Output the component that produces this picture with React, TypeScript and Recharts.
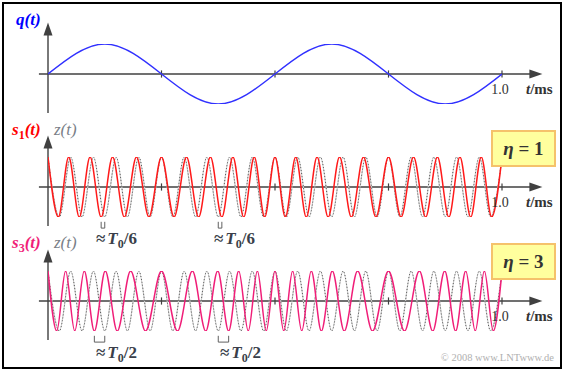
import React from "react";
import { LineChart, Line, XAxis, YAxis, ReferenceLine, ReferenceDot } from "recharts";

// Message q(t): extremum / end times (ms) and levels
const qTimes = [0, 0.125, 0.375, 0.625, 0.875, 1.0];
const qLevels = [0, 1, -1, 1, -1, 0];

// Carrier z(t): extremum times (ms), 20 periods per ms
const zTimes = [
  0, 0.025, 0.05, 0.075, 0.1, 0.125, 0.15, 0.175, 0.2, 0.225, 0.25, 0.275, 0.3, 0.325,
  0.35, 0.375, 0.4, 0.425, 0.45, 0.475, 0.5, 0.525, 0.55, 0.575, 0.6, 0.625, 0.65, 0.675,
  0.7, 0.725, 0.75, 0.775, 0.8, 0.825, 0.85, 0.875, 0.9, 0.925, 0.95, 0.975, 1.0,
];

// s1(t), eta = 1: extremum times (ms)
const s1Times = [
  0, 0.02275, 0.04568, 0.06894, 0.09269, 0.11708, 0.14223, 0.16819, 0.19493, 0.22229,
  0.25, 0.27771, 0.30507, 0.33181, 0.35777, 0.38292, 0.40731, 0.43106, 0.45432, 0.47725,
  0.5, 0.52275, 0.54568, 0.56894, 0.59269, 0.61708, 0.64223, 0.66819, 0.69493, 0.72229,
  0.75, 0.77771, 0.80507, 0.83181, 0.85777, 0.88292, 0.90731, 0.93106, 0.95432, 0.97725, 1.0,
];

// s3(t), eta = 3: extremum times (ms)
const s3Times = [
  0, 0.01927, 0.03881, 0.0589, 0.07986, 0.10211, 0.12613, 0.15254, 0.18199, 0.21479,
  0.25, 0.28521, 0.31801, 0.34746, 0.37387, 0.39789, 0.42014, 0.4411, 0.46119, 0.48073,
  0.5, 0.51927, 0.53881, 0.5589, 0.57986, 0.60211, 0.62613, 0.65254, 0.68199, 0.71479,
  0.75, 0.78521, 0.81801, 0.84746, 0.87387, 0.89789, 0.92014, 0.9411, 0.96119, 0.98073, 1.0,
];

// alternating extremum levels of the oscillating signals
const swing = [
  1, -1, 1, -1, 1, -1, 1, -1, 1, -1, 1, -1, 1, -1, 1, -1, 1, -1, 1, -1, 1,
  -1, 1, -1, 1, -1, 1, -1, 1, -1, 1, -1, 1, -1, 1, -1, 1, -1, 1, -1, 1,
];

const axisTicks = [0.25, 0.5, 0.75, 1.0];

// marked time offsets (ms) between signal and carrier
const bracketsS1 = [
  [0.11708, 0.125],
  [0.375, 0.38292],
];
const bracketsS3 = [
  [0.10211, 0.125],
  [0.375, 0.39789],
];

const qData = qTimes.map((t, i) => ({ t, v: qLevels[i] }));
const zData = zTimes.map((t, i) => ({ t, v: swing[i] }));
const s1Data = s1Times.map((t, i) => ({ t, v: swing[i] }));
const s3Data = s3Times.map((t, i) => ({ t, v: swing[i] }));

const AX = "#404040";
const W = 564;
const H = 372;

const ArrowRight = (p: any) => (
  <path d={`M${p.cx},${p.cy} L${p.cx - 13},${p.cy - 4.5} L${p.cx - 13},${p.cy + 4.5} Z`} fill={AX} />
);
const ArrowUp = (p: any) => (
  <path d={`M${p.cx},${p.cy} L${p.cx - 4.5},${p.cy + 13} L${p.cx + 4.5},${p.cy + 13} Z`} fill={AX} />
);

function axisElements(prefix: string) {
  const els: any[] = [
    <ReferenceLine
      key={prefix + "xa"}
      segment={[{ x: -0.02, y: 0 }, { x: 1.065, y: 0 }]}
      stroke={AX}
      strokeWidth={1.4}
      ifOverflow="visible"
    />,
    <ReferenceLine
      key={prefix + "ya"}
      segment={[{ x: 0, y: -1.3 }, { x: 0, y: 1.4 }]}
      stroke={AX}
      strokeWidth={1.4}
      ifOverflow="visible"
    />,
    <ReferenceDot key={prefix + "xr"} x={1.089} y={0} ifOverflow="visible" shape={ArrowRight} />,
    <ReferenceDot key={prefix + "yr"} x={0} y={1.72} ifOverflow="visible" shape={ArrowUp} />,
  ];
  axisTicks.forEach((tk) => {
    els.push(
      <ReferenceLine
        key={prefix + "tk" + tk}
        segment={[{ x: tk, y: -0.12 }, { x: tk, y: 0.12 }]}
        stroke={AX}
        strokeWidth={1.2}
        ifOverflow="visible"
      />
    );
  });
  return els;
}

function bracketElements(prefix: string, list: number[][]) {
  const els: any[] = [];
  list.forEach(([a, b], i) => {
    const st = { stroke: "#606060", strokeWidth: 1, ifOverflow: "visible" as const };
    els.push(<ReferenceLine key={prefix + i + "a"} segment={[{ x: a, y: -1.16 }, { x: a, y: -1.37 }]} {...st} />);
    els.push(<ReferenceLine key={prefix + i + "b"} segment={[{ x: b, y: -1.16 }, { x: b, y: -1.37 }]} {...st} />);
    els.push(<ReferenceLine key={prefix + i + "c"} segment={[{ x: a, y: -1.37 }, { x: b, y: -1.37 }]} {...st} />);
  });
  return els;
}

function Panel({ center, children }: { center: number; children: any[] }) {
  return (
    <div style={{ position: "absolute", left: 0, top: 0 }}>
      <LineChart
        width={W}
        height={H}
        margin={{ left: 48, right: W - 502, top: center - 30, bottom: H - center - 30 }}
      >
        <XAxis type="number" dataKey="t" domain={[0, 1]} hide allowDataOverflow />
        <YAxis type="number" domain={[-1, 1]} hide width={0} allowDataOverflow />
        {children}
      </LineChart>
    </div>
  );
}

function carrierLines(prefix: string) {
  return [
    <Line
      key={prefix + "zl"}
      data={zData}
      dataKey="v"
      type="monotone"
      dot={false}
      stroke="#cccccc"
      strokeWidth={1.2}
      isAnimationActive={false}
    />,
    <Line
      key={prefix + "zd"}
      data={zData}
      dataKey="v"
      type="monotone"
      dot={false}
      stroke="#5a5a5a"
      strokeWidth={1}
      strokeDasharray="1 2"
      isAnimationActive={false}
    />,
  ];
}

const serif = "'Liberation Serif','Times New Roman',serif";

const annotations = [
  { x: 96, y: 244, d: "6" },
  { x: 214, y: 244, d: "6" },
  { x: 96, y: 358, d: "2" },
  { x: 220, y: 358, d: "2" },
];

export default function App() {
  return (
    <div style={{ position: "absolute", left: 0, top: 0, width: W, height: H, background: "#fff", overflow: "hidden" }}>
      <Panel center={74}>
        {[
          ...axisElements("q"),
          <Line
            key="qline"
            data={qData}
            dataKey="v"
            type="monotone"
            dot={false}
            stroke="#3030ff"
            strokeWidth={1.4}
            isAnimationActive={false}
          />,
        ]}
      </Panel>
      <Panel center={187}>
        {[
          ...axisElements("m"),
          ...carrierLines("m"),
          <Line
            key="s1line"
            data={s1Data}
            dataKey="v"
            type="monotone"
            dot={false}
            stroke="#ff1a1a"
            strokeWidth={1.5}
            isAnimationActive={false}
          />,
          ...bracketElements("bm", bracketsS1),
        ]}
      </Panel>
      <Panel center={301}>
        {[
          ...axisElements("b"),
          ...carrierLines("b"),
          <Line
            key="s3line"
            data={s3Data}
            dataKey="v"
            type="monotone"
            dot={false}
            stroke="#f01e78"
            strokeWidth={1.5}
            isAnimationActive={false}
          />,
          ...bracketElements("bb", bracketsS3),
        ]}
      </Panel>
      <svg
        width={W}
        height={H}
        style={{ position: "absolute", left: 0, top: 0, pointerEvents: "none" }}
        fontFamily={serif}
      >
        <rect x={3} y={3} width={558} height={365} fill="none" stroke="#000" strokeWidth={2} />

        <text x={16} y={25} fill="#0000ff" fontWeight="bold" fontStyle="italic" fontSize={17}>
          q(t)
        </text>

        <text x={12} y={135} fill="#ff0000" fontWeight="bold" fontSize={17}>
          <tspan fontStyle="italic">s</tspan>
          <tspan fontSize={12} dy={4}>1</tspan>
          <tspan fontStyle="italic" dy={-4}>(t)</tspan>
        </text>
        <text x={54} y={135} fill="#7a7f88" fontStyle="italic" fontSize={17}>
          z(t)
        </text>

        <text x={12} y={248} fill="#f01e78" fontWeight="bold" fontSize={17}>
          <tspan fontStyle="italic">s</tspan>
          <tspan fontSize={12} dy={4}>3</tspan>
          <tspan fontStyle="italic" dy={-4}>(t)</tspan>
        </text>
        <text x={54} y={248} fill="#7a7f88" fontStyle="italic" fontSize={17}>
          z(t)
        </text>

        {[94, 207, 321].map((by, i) => (
          <g key={"lab" + i}>
            <text x={500} y={by} textAnchor="middle" fontSize={14} fill="#333">
              1.0
            </text>
            <text x={526} y={by} fontSize={15} fontWeight="bold" fill="#333">
              <tspan fontStyle="italic">t</tspan>/ms
            </text>
          </g>
        ))}

        {annotations.map((a, i) => (
          <text key={"ann" + i} x={a.x} y={a.y} fontSize={17} fontWeight="bold" fill="#3a3f4a">
            ≈<tspan fontStyle="italic" dx={2}>T</tspan>
            <tspan fontSize={12} dy={4}>0</tspan>
            <tspan dy={-4}>/{a.d}</tspan>
          </text>
        ))}

        <rect x={492} y={131} width={63} height={35} fill="#ffff9e" stroke="#f5c26b" strokeWidth={2} />
        <text x={523.5} y={155} textAnchor="middle" fontSize={19} fontWeight="bold" fill="#333">
          <tspan fontStyle="italic">η</tspan> = 1
        </text>
        <rect x={492} y={244} width={63} height={35} fill="#ffff9e" stroke="#f5c26b" strokeWidth={2} />
        <text x={523.5} y={268} textAnchor="middle" fontSize={19} fontWeight="bold" fill="#333">
          <tspan fontStyle="italic">η</tspan> = 3
        </text>

        <text x={554} y={361} textAnchor="end" fontSize={10.5} fill="#b0b0b0">
          © 2008 www.LNTwww.de
        </text>
      </svg>
    </div>
  );
}
